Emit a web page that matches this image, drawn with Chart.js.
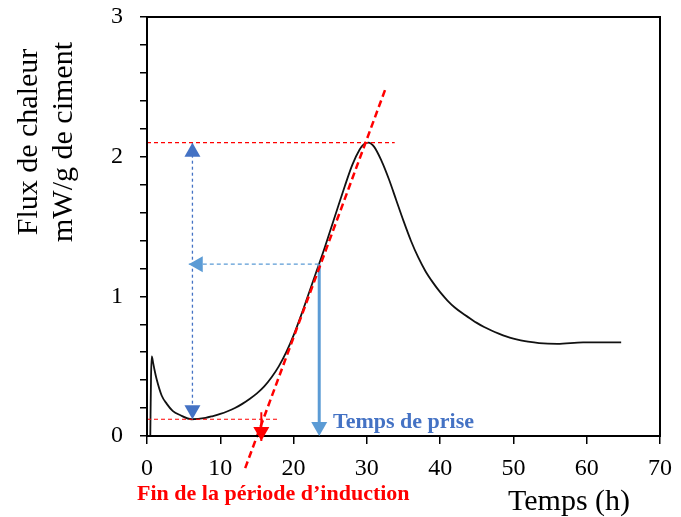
<!DOCTYPE html>
<html>
<head>
<meta charset="utf-8">
<script src="https://cdn.jsdelivr.net/npm/chart.js@4.4.0/dist/chart.umd.min.js"></script>
<style>
  body { margin: 0; background: #fff; }
</style>
</head>
<body>
<canvas id="chart" width="681" height="517"></canvas>
<script>
// heat flow curve
const timeH = [0.45, 0.55, 0.65, 0.85, 1.0, 1.3, 2.0, 2.7, 3.5, 4.5, 6.1, 8, 9, 10, 11, 12, 13, 14, 15, 16, 17, 18, 19, 20, 21, 22, 23, 24, 25, 26, 27, 28, 29, 29.6, 30.2, 31, 32, 33, 34, 35, 36, 37, 38, 39, 40, 41, 42, 43, 44, 45, 46, 47, 48, 49, 50, 51, 52, 53.5, 56, 59.5, 62, 64.7];
const flux = [0, 0.42, 0.57, 0.52, 0.48, 0.41, 0.29, 0.23, 0.18, 0.15, 0.12, 0.13, 0.143, 0.158, 0.177, 0.2, 0.23, 0.265, 0.305, 0.355, 0.42, 0.5, 0.6, 0.72, 0.86, 1.01, 1.16, 1.31, 1.47, 1.63, 1.79, 1.94, 2.05, 2.09, 2.1, 2.07, 1.97, 1.84, 1.69, 1.54, 1.4, 1.28, 1.18, 1.1, 1.03, 0.97, 0.92, 0.88, 0.845, 0.81, 0.78, 0.755, 0.733, 0.713, 0.697, 0.685, 0.675, 0.665, 0.66, 0.67, 0.67, 0.67];

// construction lines
const tangentT = [13.4, 32.5];
const tangentF = [-0.23, 2.48];
const peakFlux = 2.1;
const peakLineEnd = 33.8;
const minFlux = 0.12;
const minLineEnd = 17.9;
const minTime = 6.2;
const setTime = 23.5;
const setFlux = 1.23;
const setArrowEnd = 5.7;
const inductionEnd = 15.6;
const inductionStem = [0.17, -0.035];

const xTicks = [0, 10, 20, 30, 40, 50, 60, 70];

const RED = "#ff0000";
const DBLUE = "#4472c4";
const LBLUE = "#5b9bd5";
const SERIF = "'Liberation Serif', 'Times New Roman', serif";

const pts = (xs, ys) => xs.map((x, i) => ({ x: x, y: ys[i] }));

const lineSet = (data, color, width, dash, order) => ({
  data: data,
  borderColor: color,
  borderWidth: width,
  borderDash: dash,
  pointRadius: 0,
  fill: false,
  tension: 0,
  clip: false,
  order: order,
});

const arrowHead = (ctx, px, py, dir, color) => {
  const w = 8, len = 14;
  ctx.save();
  ctx.fillStyle = color;
  ctx.beginPath();
  if (dir === "up") {
    ctx.moveTo(px, py);
    ctx.lineTo(px - w, py + len);
    ctx.lineTo(px + w, py + len);
  } else if (dir === "down") {
    ctx.moveTo(px, py);
    ctx.lineTo(px - w, py - len);
    ctx.lineTo(px + w, py - len);
  } else {
    ctx.moveTo(px, py);
    ctx.lineTo(px + len, py - w);
    ctx.lineTo(px + len, py + w);
  }
  ctx.closePath();
  ctx.fill();
  ctx.restore();
};

const extras = {
  id: "extras",
  afterDatasetsDraw(chart) {
    const { ctx, chartArea: a, scales } = chart;
    const X = (v) => scales.x.getPixelForValue(v);
    const Y = (v) => scales.y.getPixelForValue(v);

    // frame
    ctx.save();
    ctx.strokeStyle = "#000";
    ctx.lineWidth = 2;
    ctx.strokeRect(a.left, a.top, a.right - a.left, a.bottom - a.top);
    ctx.restore();

    arrowHead(ctx, X(minTime), Y(peakFlux), "up", DBLUE);
    arrowHead(ctx, X(minTime), Y(minFlux), "down", DBLUE);
    arrowHead(ctx, X(setArrowEnd), Y(setFlux), "left", LBLUE);
    arrowHead(ctx, X(setTime), Y(0), "down", LBLUE);
    arrowHead(ctx, X(inductionEnd), Y(inductionStem[1]), "down", RED);

    ctx.save();
    ctx.textBaseline = "alphabetic";
    ctx.textAlign = "left";
    ctx.font = "bold 22px " + SERIF;
    ctx.fillStyle = DBLUE;
    ctx.fillText("Temps de prise", 333, 428);
    ctx.fillStyle = RED;
    ctx.fillText("Fin de la période d’induction", 137, 500);
    ctx.fillStyle = "#000";
    ctx.font = "30px " + SERIF;
    ctx.fillText("Temps (h)", 508, 510);

    ctx.translate(0, 142);
    ctx.rotate(-Math.PI / 2);
    ctx.textAlign = "center";
    ctx.fillText("Flux de chaleur", 0, 37);
    ctx.fillText("mW/g de ciment", 0, 72);
    ctx.restore();
  },
};

new Chart(document.getElementById("chart"), {
  type: "line",
  data: {
    datasets: [
      {
        data: pts(timeH, flux),
        borderColor: "#111",
        borderWidth: 1.8,
        pointRadius: 0,
        fill: false,
        cubicInterpolationMode: "monotone",
        order: 5,
      },
      lineSet(pts(tangentT, tangentF), RED, 2.5, [7, 4], 0),
      lineSet(pts([0, peakLineEnd], [peakFlux, peakFlux]), RED, 1.2, [4, 3], 1),
      lineSet(pts([0, minLineEnd], [minFlux, minFlux]), RED, 1.2, [4, 3], 1),
      lineSet(pts([minTime, minTime], [peakFlux, minFlux]), DBLUE, 1.3, [3, 3], 2),
      lineSet(pts([setArrowEnd, setTime], [setFlux, setFlux]), LBLUE, 1.3, [4, 3], 2),
      lineSet(pts([setTime, setTime], [setFlux, 0.05]), LBLUE, 3, [], 2),
      lineSet(pts([inductionEnd, inductionEnd], inductionStem), RED, 2, [], 1),
    ],
  },
  options: {
    responsive: false,
    animation: false,
    layout: { padding: { top: 17, right: 21, left: 0, bottom: 0 } },
    plugins: { legend: { display: false }, tooltip: { enabled: false } },
    scales: {
      x: {
        type: "linear",
        min: 0,
        max: 70,
        afterFit: (s) => {
          s.height = 81;
          s.paddingLeft = 0;
          s.paddingRight = 0;
        },
        afterBuildTicks: (s) => { s.ticks = xTicks.map((v) => ({ value: v })); },
        border: { color: "#000", width: 2 },
        grid: { drawOnChartArea: false, color: "#000", tickLength: 8, lineWidth: 1.5 },
        ticks: { color: "#000", padding: 10, font: { family: SERIF, size: 24 }, maxRotation: 0 },
      },
      y: {
        min: 0,
        max: 3,
        afterFit: (s) => {
          s.width = 147;
          s.paddingTop = 0;
          s.paddingBottom = 0;
        },
        border: { color: "#000", width: 2 },
        grid: { drawOnChartArea: false, color: "#000", tickLength: 7, lineWidth: 1.5 },
        ticks: {
          stepSize: 0.2,
          autoSkip: false,
          color: "#000",
          padding: 17,
          font: { family: SERIF, size: 24 },
          callback: (v) => (Math.abs(v - Math.round(v)) < 1e-6 ? String(Math.round(v)) : ""),
        },
      },
    },
  },
  plugins: [extras],
});
</script>
</body>
</html>
